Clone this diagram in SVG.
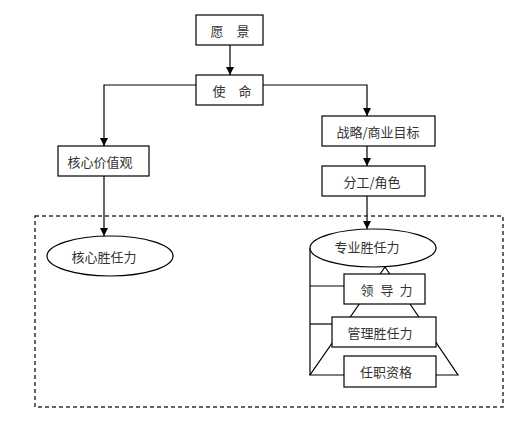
<svg xmlns="http://www.w3.org/2000/svg" width="526" height="422" viewBox="0 0 526 422">
<defs>
<marker id="arr" viewBox="0 0 10 10" refX="10" refY="5" markerWidth="8" markerHeight="8" markerUnits="userSpaceOnUse" orient="auto">
<path d="M0,0 L10,5 L0,10 Z" fill="#000"/>
</marker>
</defs>
<style>
.box{fill:#fff;stroke:#000;stroke-width:1.2}
.ln{fill:none;stroke:#000;stroke-width:1.2}
.t{font-family:"Noto Sans CJK SC","Liberation Serif",serif;font-size:13px;fill:#333;text-anchor:middle;dominant-baseline:central}
</style>
<rect width="526" height="422" fill="#fff"/>
<g id="connectors">
<line class="ln" x1="230" y1="45" x2="230" y2="75" marker-end="url(#arr)"/>
<polyline class="ln" points="196,85 104,85 104,146" marker-end="url(#arr)"/>
<polyline class="ln" points="263,85 367,85 367,116" marker-end="url(#arr)"/>
<line class="ln" x1="367" y1="146" x2="367" y2="166" marker-end="url(#arr)"/>
<line class="ln" x1="367" y1="196" x2="367" y2="229" marker-end="url(#arr)"/>
<line class="ln" x1="104" y1="176" x2="104" y2="236" marker-end="url(#arr)"/>
</g>
<rect id="scope" x="35" y="216" width="468" height="191" fill="none" stroke="#333" stroke-width="1.5" stroke-dasharray="4,3"/>
<g id="pyramid">
<polygon class="ln" points="385,267 458,375 310,375"/>
<polyline class="ln" points="310,248 310,375"/>
<line class="ln" x1="310" y1="286" x2="344" y2="286"/>
<line class="ln" x1="310" y1="324" x2="332" y2="324"/>
</g>
<g id="n-yuanjing"><rect class="box" x="196" y="15" width="67" height="30"/><text class="t" x="217" y="30">愿</text><text class="t" x="243" y="30">景</text></g>
<g id="n-shiming"><rect class="box" x="196" y="75" width="67" height="30"/><text class="t" x="219" y="90">使</text><text class="t" x="245" y="90">命</text></g>
<g id="n-hexinjiazhi"><rect class="box" x="58" y="146" width="91" height="30"/><text class="t" x="100" y="161">核心价值观</text></g>
<g id="n-zhanlue"><rect class="box" x="322" y="116" width="113" height="30"/><text class="t" x="378" y="131">战略/商业目标</text></g>
<g id="n-fengong"><rect class="box" x="322" y="166" width="103" height="30"/><text class="t" x="372" y="181">分工/角色</text></g>
<g id="n-hexinshengren"><ellipse class="box" cx="110" cy="256" rx="63" ry="20"/><text class="t" x="104" y="256">核心胜任力</text></g>
<g id="n-zhuanye"><ellipse class="box" cx="373" cy="248" rx="63" ry="19"/><text class="t" x="367" y="246">专业胜任力</text></g>
<g id="n-lingdao"><rect class="box" x="344" y="274" width="81" height="30"/><text class="t" x="367" y="289">领</text><text class="t" x="387" y="289">导</text><text class="t" x="406" y="289">力</text></g>
<g id="n-guanli"><rect class="box" x="332" y="317" width="104" height="30"/><text class="t" x="380" y="332">管理胜任力</text></g>
<g id="n-renzhi"><rect class="box" x="344" y="356" width="92" height="31"/><text class="t" x="386" y="371">任职资格</text></g>
</svg>
